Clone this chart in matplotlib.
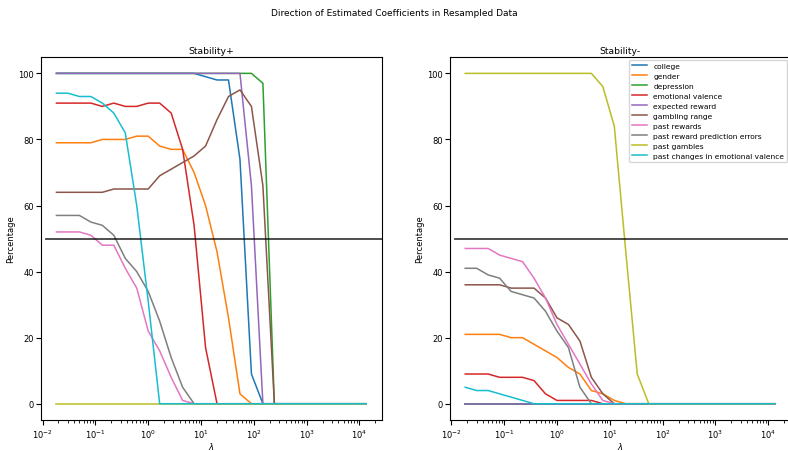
import numpy as np
import matplotlib
matplotlib.use("Agg")
import matplotlib.pyplot as plt

# lambda grid: exp(-4), exp(-3.5), ..., exp(9.5)
lambdas = np.exp(np.arange(-4, 10, 0.5))

names = ["college", "gender", "depression", "emotional valence", "expected reward",
         "gambling range", "past rewards", "past reward prediction errors",
         "past gambles", "past changes in emotional valence"]

def pad(vals, n=28):
    return list(vals) + [0] * (n - len(vals))

# Stability+ (left)
pos_college = pad([100]*13 + [99, 98, 98, 74, 9, 0])
pos_gender = pad([79, 79, 79, 79, 80, 80, 80, 81, 81, 78, 77, 77, 70, 60, 46, 26, 3, 0])
pos_depression = pad([100]*18 + [97, 0])
pos_emotional = pad([91, 91, 91, 91, 90, 91, 90, 90, 91, 91, 88, 77, 54, 17, 0])
pos_expected = pad([100]*17 + [66, 0])
pos_gambling = pad([64, 64, 64, 64, 64, 65, 65, 65, 65, 69, 71, 73, 75, 78, 86, 93, 95, 90, 66, 0])
pos_past_rewards = pad([52, 52, 52, 51, 48, 48, 41, 35, 22, 16, 8, 1, 0])
pos_past_rpe = pad([57, 57, 57, 55, 54, 51, 44, 40, 34, 25, 14, 5, 0])
pos_past_gambles = pad([0])
pos_past_changes = pad([94, 94, 93, 93, 91, 88, 82, 60, 31, 0])

# Stability- (right)
neg_college = pad([0])
neg_gender = pad([21, 21, 21, 21, 20, 20, 18, 16, 14, 11, 9, 4, 3, 1, 0])
neg_depression = pad([0])
neg_emotional = pad([9, 9, 9, 8, 8, 8, 7, 3, 1, 1, 1, 1, 0])
neg_expected = pad([0])
neg_gambling = pad([36, 36, 36, 36, 35, 35, 35, 32, 26, 24, 19, 8, 3, 0])
neg_past_rewards = pad([47, 47, 47, 45, 44, 43, 38, 32, 24, 18, 12, 6, 1, 0])
neg_past_rpe = pad([41, 41, 39, 38, 34, 33, 32, 28, 22, 17, 5, 0])
neg_past_gambles = pad([100]*12 + [96, 84, 46, 9, 0])
neg_past_changes = pad([5, 4, 4, 3, 2, 1, 0])

pos_series = [pos_college, pos_gender, pos_depression, pos_emotional, pos_expected,
              pos_gambling, pos_past_rewards, pos_past_rpe, pos_past_gambles, pos_past_changes]
neg_series = [neg_college, neg_gender, neg_depression, neg_emotional, neg_expected,
              neg_gambling, neg_past_rewards, neg_past_rpe, neg_past_gambles, neg_past_changes]

plt.rcParams['font.family'] = ['DejaVu Sans']
plt.rcParams['font.size'] = 6.5

fig, axes = plt.subplots(1, 2, figsize=(7.88, 4.52), dpi=100)
fig.subplots_adjust(left=0.052, right=1.003, top=0.872, bottom=0.068, wspace=0.2)
fig.suptitle("Direction of Estimated Coefficients in Resampled Data", fontsize=6.5, y=0.98)

for ax, series, title in zip(axes, [pos_series, neg_series], ["Stability+", "Stability-"]):
    for name, vals in zip(names, series):
        ax.plot(lambdas, vals, label=name, lw=1.1)
    ax.set_xscale('log')
    ax.axhline(50, xmin=0.015, color='k', alpha=0.75, lw=1.3)
    ax.set_title(title, fontsize=6.7, pad=3)
    ax.set_ylabel("Percentage", fontsize=6, labelpad=2)
    ax.set_xlabel(r"$\lambda$", fontsize=6, labelpad=0)
    ax.tick_params(labelsize=6, pad=1.5)

axes[1].legend(loc='upper right', fontsize=5.4, borderaxespad=0.4)

fig.savefig("out.png", dpi=100)
